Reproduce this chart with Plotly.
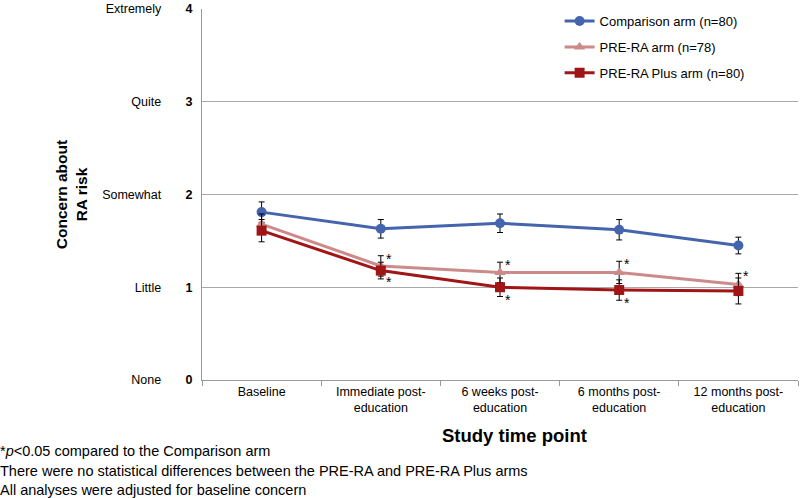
import plotly.graph_objects as go

time_points = ["Baseline", "Immediate post-<br>education", "6 weeks post-<br>education",
               "6 months post-<br>education", "12 months post-<br>education"]

comparison = [1.81, 1.63, 1.69, 1.62, 1.45]
comparison_err = [0.11, 0.10, 0.10, 0.11, 0.09]
pre_ra = [1.68, 1.23, 1.16, 1.16, 1.03]
pre_ra_err = [0.11, 0.11, 0.11, 0.12, 0.12]
pre_ra_plus = [1.61, 1.18, 1.00, 0.97, 0.96]
pre_ra_plus_err = [0.12, 0.09, 0.10, 0.11, 0.14]

# significance vs comparison arm
pre_ra_sig = [False, True, True, True, True]
pre_ra_plus_sig = [False, True, True, True, False]

y_vals = [0, 1, 2, 3, 4]
y_words = ["None", "Little", "Somewhat", "Quite", "Extremely"]

footnotes = [
    "*<i>p</i><0.05 compared to the Comparison arm",
    "There were no statistical differences between the PRE-RA and PRE-RA Plus arms",
    "All analyses were adjusted for baseline concern",
]

series = [
    ("Comparison arm (n=80)", comparison, comparison_err, "#4464AE", "circle"),
    ("PRE-RA arm (n=78)", pre_ra, pre_ra_err, "#CD8A8A", "triangle-up"),
    ("PRE-RA Plus arm (n=80)", pre_ra_plus, pre_ra_plus_err, "#A01515", "square"),
]

fig = go.Figure()
for i, (name, vals, err, col, sym) in enumerate(series):
    fig.add_trace(go.Scatter(
        x=time_points, y=vals, name=name, mode="lines+markers",
        line=dict(color=col, width=3),
        marker=dict(color=col, symbol=sym, size=10),
        error_y=dict(type="data", array=err, color="black", thickness=1, width=3),
        legendgroup=str(i),
    ))

for x, v, e, s in zip(time_points, pre_ra, pre_ra_err, pre_ra_sig):
    if s:
        fig.add_annotation(x=x, y=v + e, text="*", showarrow=False, xshift=8, yshift=-3,
                           font=dict(size=14, color="black"))
for x, v, e, s in zip(time_points, pre_ra_plus, pre_ra_plus_err, pre_ra_plus_sig):
    if s:
        fig.add_annotation(x=x, y=v - e, text="*", showarrow=False, xshift=8, yshift=-3,
                           font=dict(size=14, color="black"))

fig.add_annotation(x=0.525, y=-55/371, xref="paper", yref="paper", text="<b>Study time point</b>",
                   showarrow=False, yanchor="middle", font=dict(size=18.5, color="black"))
for k, line in enumerate(footnotes):
    fig.add_annotation(x=-204/596, y=-(71 + 19.5 * k) / 371, xref="paper", yref="paper",
                       xanchor="left", yanchor="middle", showarrow=False,
                       font=dict(size=14.5, color="black"), text=line)

fig.update_layout(
    width=800, height=498,
    paper_bgcolor="white", plot_bgcolor="white",
    margin=dict(l=202, r=2, t=9, b=118),
    font=dict(family="Liberation Sans, Arial, sans-serif", color="black"),
    showlegend=True,
    legend=dict(x=0.60, y=1.008, xanchor="left", yanchor="top", font=dict(size=13),
                traceorder="grouped", tracegroupgap=6, itemwidth=30,
                bgcolor="rgba(0,0,0,0)"),
    xaxis=dict(
        type="category", tickson="boundaries", ticks="outside", ticklen=5, tickcolor="#999999",
        showline=True, linecolor="#999999", showgrid=False,
        tickfont=dict(size=12.5), range=[-0.5, 4.5],
    ),
    yaxis=dict(
        range=[0, 4], tickvals=y_vals,
        ticktext=[f"{w}&nbsp;&nbsp;&nbsp;&nbsp;&nbsp;&nbsp;&nbsp;<b>{v}</b>" for w, v in zip(y_words, y_vals)],
        tickfont=dict(size=12.5), showline=True, linecolor="#999999",
        ticklabelstandoff=6,
        showgrid=True, gridcolor="#AAAAAA", zeroline=False,
        title=dict(text="<b>Concern about<br>RA risk</b>", font=dict(size=15.5), standoff=10),
    ),
)

# page has a default 8px body margin; remove it so the figure fills the window
fig.write_html("out.html", config={"displayModeBar": False},
               post_script="document.body.style.margin='0';")
